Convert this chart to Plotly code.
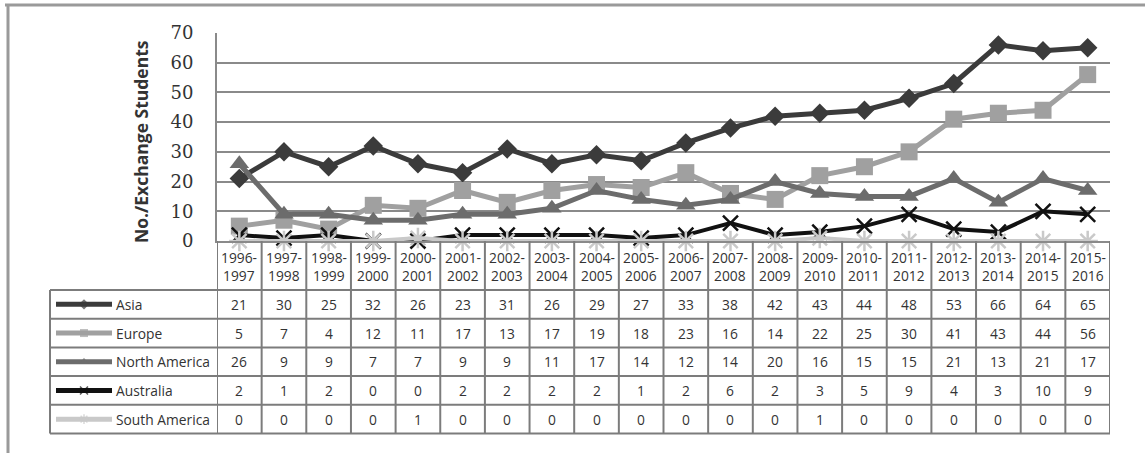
import plotly.graph_objects as go

W, H = 1145, 453

seasons = ["1996-1997", "1997-1998", "1998-1999", "1999-2000", "2000-2001",
           "2001-2002", "2002-2003", "2003-2004", "2004-2005", "2005-2006",
           "2006-2007", "2007-2008", "2008-2009", "2009-2010", "2010-2011",
           "2011-2012", "2012-2013", "2013-2014", "2014-2015", "2015-2016"]

asia = [21, 30, 25, 32, 26, 23, 31, 26, 29, 27, 33, 38, 42, 43, 44, 48, 53, 66, 64, 65]
europe = [5, 7, 4, 12, 11, 17, 13, 17, 19, 18, 23, 16, 14, 22, 25, 30, 41, 43, 44, 56]
north_america = [26, 9, 9, 7, 7, 9, 9, 11, 17, 14, 12, 14, 20, 16, 15, 15, 21, 13, 21, 17]
australia = [2, 1, 2, 0, 0, 2, 2, 2, 2, 1, 2, 6, 2, 3, 5, 9, 4, 3, 10, 9]
south_america = [0, 0, 0, 0, 1, 0, 0, 0, 0, 0, 0, 0, 0, 1, 0, 0, 0, 0, 0, 0]

y_ticks = [0, 10, 20, 30, 40, 50, 60, 70]

series = [
    ("Asia", asia, "#3b3b3b", "diamond", 15, 5),
    ("Europe", europe, "#a0a0a0", "square", 17, 5),
    ("North America", north_america, "#6c6c6c", "triangle-up", 17, 5),
    ("Australia", australia, "#111111", "x-thin", 15, 4),
    ("South America", south_america, "#c9c9c9", "asterisk", 17, 4),
]

# layout geometry in pixels
PLOT_L, PLOT_R, PLOT_T, PLOT_B = 217, 1110, 33, 241
TABLE_L = 50
HEADER_B = 290
ROW_H = 28.7
GRID = "#8a8a8a"
TABLE_LINE = "#7c7c7c"
TEXT_FONT = "Open Sans"


def px(x):
    return x / W


def py(y):
    return 1 - y / H


fig = go.Figure()

for name, vals, color, sym, msize, lw in series:
    marker_line = dict(width=2.5 if sym in ("x-thin", "asterisk") else 0, color=color)
    fig.add_trace(go.Scatter(
        x=list(range(len(seasons))), y=vals, mode="lines+markers", name=name,
        line=dict(color=color, width=lw),
        marker=dict(symbol=sym, size=msize, color=color, line=marker_line),
        cliponaxis=False, showlegend=False, xaxis="x", yaxis="y",
    ))

shapes = []
annotations = []

# outer frame
shapes.append(dict(type="line", xref="paper", yref="paper", x0=px(5), x1=1,
                   y0=py(5), y1=py(5), line=dict(color="#9a9a9a", width=3)))
shapes.append(dict(type="line", xref="paper", yref="paper", x0=px(8), x1=px(8),
                   y0=py(5), y1=0, line=dict(color="#9a9a9a", width=3)))

n = len(seasons)
row_lines = [HEADER_B + ROW_H * k for k in range(len(series) + 1)]

# horizontal table rules
for yy in row_lines:
    shapes.append(dict(type="line", xref="paper", yref="paper", x0=px(TABLE_L), x1=px(PLOT_R),
                       y0=py(yy), y1=py(yy), line=dict(color=TABLE_LINE, width=2)))
# left edge of the series-name column
shapes.append(dict(type="line", xref="paper", yref="paper", x0=px(TABLE_L), x1=px(TABLE_L),
                   y0=py(HEADER_B), y1=py(row_lines[-1]), line=dict(color=TABLE_LINE, width=2)))
# column separators, placed on the category axis
for i in range(n + 1):
    shapes.append(dict(type="line", xref="x", yref="paper", x0=i - 0.5, x1=i - 0.5,
                       y0=py(PLOT_B), y1=py(row_lines[-1]), line=dict(color=TABLE_LINE, width=2)))

cell_font = dict(family=TEXT_FONT, size=13.8, color="#333")

# header cells: season labels (two lines, placed separately for Excel-like spacing)
for i, s in enumerate(seasons):
    a, b = s.split("-")
    annotations.append(dict(xref="x", yref="paper", x=i, y=py(257), text=f"{a}-",
                            xanchor="center", yanchor="middle", showarrow=False, font=cell_font))
    annotations.append(dict(xref="x", yref="paper", x=i, y=py(275), text=b,
                            xanchor="center", yanchor="middle", showarrow=False, font=cell_font))

# data rows
for r, (name, vals, color, sym, msize, lw) in enumerate(series):
    yc = (row_lines[r] + row_lines[r + 1]) / 2
    annotations.append(dict(xref="paper", yref="paper", x=px(114), y=py(yc), text=name,
                            xanchor="left", yanchor="middle", showarrow=False, font=cell_font))
    for i, v in enumerate(vals):
        annotations.append(dict(xref="x", yref="paper", x=i, y=py(yc), text=str(v),
                                xanchor="center", yanchor="middle", showarrow=False,
                                font=cell_font))
    # legend key: short line with a small marker in the name cell
    fig.add_trace(go.Scatter(
        x=[56, 84, 112], y=[yc, yc, yc], mode="lines+markers",
        line=dict(color=color, width=5),
        marker=dict(symbol=sym, size=[0, 8, 0], color=color,
                    line=dict(width=1.5 if sym in ("x-thin", "asterisk") else 0, color=color)),
        showlegend=False, hoverinfo="skip", xaxis="x2", yaxis="y2", cliponaxis=False,
    ))

# y-axis title
annotations.append(dict(xref="paper", yref="paper", x=px(141), y=py(142),
                        text="<b>No./Exchange Students</b>", textangle=-90, showarrow=False,
                        xanchor="center", yanchor="middle",
                        font=dict(family=TEXT_FONT, size=17.5, color="#333")))

fig.update_layout(
    width=W, height=H, margin=dict(l=0, r=0, t=0, b=0, pad=0, autoexpand=False),
    paper_bgcolor="white", plot_bgcolor="rgba(0,0,0,0)",
    xaxis=dict(domain=[px(PLOT_L), px(PLOT_R)], range=[-0.5, n - 0.5],
               showticklabels=False, showgrid=False, zeroline=False, automargin=False,
               showline=True, linecolor=GRID, linewidth=2, ticks=""),
    yaxis=dict(domain=[py(PLOT_B), py(PLOT_T)], range=[0, 70], tickvals=y_ticks,
               showgrid=True, gridcolor=GRID, gridwidth=2, zeroline=False, automargin=False,
               showline=True, linecolor=GRID, linewidth=2,
               ticks="outside", ticklen=18, tickcolor="rgba(0,0,0,0)",
               tickfont=dict(family="DejaVu Serif", size=18, color="#333")),
    xaxis2=dict(domain=[0, 1], range=[0, W], visible=False, anchor="y2"),
    yaxis2=dict(domain=[0, 1], range=[H, 0], visible=False, anchor="x2"),
    shapes=shapes, annotations=annotations,
)

fig.write_html("out.html")
